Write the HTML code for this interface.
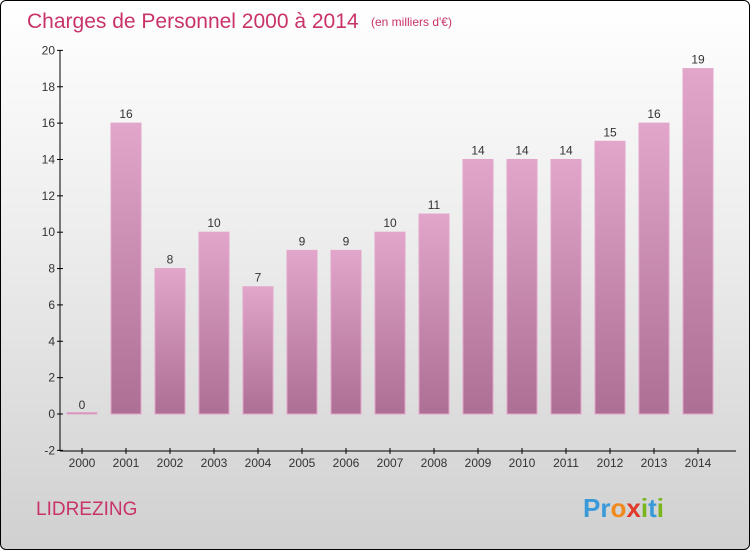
<!DOCTYPE html>
<html><head><meta charset="utf-8"><style>
body{margin:0}
#c{position:relative;width:748px;height:548px;border:1px solid #000;border-radius:6px;overflow:hidden;background:linear-gradient(#ffffff,#ececec 45%,#d0d0d0);font-family:"Liberation Sans",sans-serif}
</style></head><body>
<div id="c">
<svg width="748" height="548">
<defs><linearGradient id="g" x1="0" y1="0" x2="0" y2="1"><stop offset="0" stop-color="#e2a6cb"/><stop offset="1" stop-color="#ad6f93"/></linearGradient></defs>
<text x="26" y="27" font-size="21" fill="#c8336a">Charges de Personnel 2000 à 2014</text>
<text x="370" y="25" font-size="12" fill="#c8336a">(en milliers d'€)</text>
<g id="plot"></g>
<text x="35" y="514" font-size="19" fill="#c8336a">LIDREZING</text>
<text x="582" y="516" font-size="26" font-weight="bold" fill="#3a9ad9"><tspan fill="#3a9ad9">Pr</tspan><tspan fill="#f08a1c">o</tspan><tspan fill="#e23a2a">x</tspan><tspan fill="#7ab51d">i</tspan><tspan fill="#3a9ad9">t</tspan><tspan fill="#7ab51d">i</tspan></text>
</svg></div>
<script>
const years=["2000","2001","2002","2003","2004","2005","2006","2007","2008","2009","2010","2011","2012","2013","2014"];
const values=[0,16,8,10,7,9,9,10,11,14,14,14,15,16,19];
const yTicks=[-2,0,2,4,6,8,10,12,14,16,18,20];
const ns="http://www.w3.org/2000/svg";
const g=document.getElementById('plot');
const y=v=>413-(v)*18.18;
const x=i=>81+i*44;
function mk(t,a){const e=document.createElementNS(ns,t);for(const k in a)e.setAttribute(k,a[k]);g.appendChild(e);return e;}
let ax=mk('line',{x1:59,y1:49,x2:59,y2:450,stroke:'#000'});


let bx=mk('line',{x1:59,y1:450,x2:735,y2:450,stroke:'#000'});


yTicks.forEach(v=>{
 let l=mk('line',{x1:56,y1:y(v),x2:62,y2:y(v),stroke:'#000'});
 
 
 let t=mk('text',{x:54,y:y(v)+4,'text-anchor':'end','font-size':12,fill:'#333'});
 t.textContent=v;
 
 
});
years.forEach((yr,i)=>{
 const v=values[i];
 let h=Math.max(y(0)-y(v),1.5);
 let r=mk('rect',{x:x(i)-15,y:y(0)-h,width:30,height:h,fill:'url(#g)',stroke:'#e2a6cb','stroke-width':1});
 
 
 let t=mk('text',{x:x(i),y:y(v)-5,'text-anchor':'middle','font-size':12,fill:'#333'});
 t.textContent=v;
 
 
 let tk=mk('line',{x1:x(i),y1:447,x2:x(i),y2:453,stroke:'#000'});
 
 
 let xl=mk('text',{x:x(i),y:466,'text-anchor':'middle','font-size':12,fill:'#333'});
 xl.textContent=yr;
 
 
});
</script>
</body></html>
